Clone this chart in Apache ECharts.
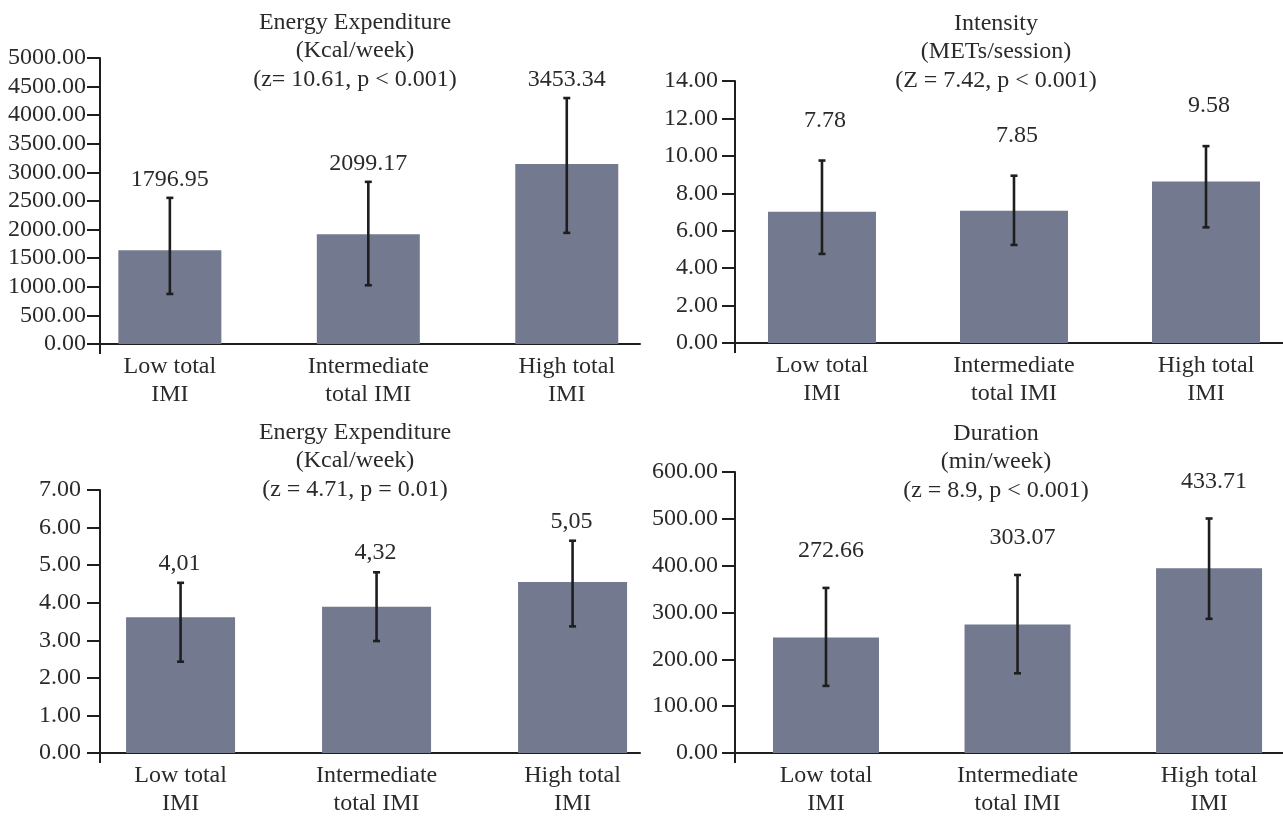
<!DOCTYPE html>
<html>
<head>
<meta charset="utf-8">
<script src="https://cdn.jsdelivr.net/npm/echarts@6/dist/echarts.min.js"></script>
<style>
html,body{margin:0;padding:0;background:#fff;}
#chart{width:1283px;height:818px;}
</style>
</head>
<body>
<div id="chart"></div>
<script>
// ---------- data ----------
const categories = ['Low total\nIMI', 'Intermediate\ntotal IMI', 'High total\nIMI'];

const titles = [
  'Energy Expenditure\n(Kcal/week)\n(z= 10.61, p < 0.001)',
  'Intensity\n(METs/session)\n(Z = 7.42, p < 0.001)',
  'Energy Expenditure\n(Kcal/week)\n(z = 4.71, p = 0.01)',
  'Duration\n(min/week)\n(z = 8.9, p < 0.001)'
];

const energyBars   = [1639, 1919, 3145];
const energyLow    = [875, 1027, 1943];
const energyHigh   = [2555, 2835, 4300];
const energyLabels = ['1796.95', '2099.17', '3453.34'];

const intensityBars   = [7.02, 7.07, 8.63];
const intensityLow    = [4.76, 5.24, 6.18];
const intensityHigh   = [9.75, 8.94, 10.52];
const intensityLabels = ['7.78', '7.85', '9.58'];

const energy2Bars   = [3.61, 3.89, 4.55];
const energy2Low    = [2.43, 2.98, 3.37];
const energy2High   = [4.53, 4.81, 5.65];
const energy2Labels = ['4,01', '4,32', '5,05'];

const durationBars   = [246.8, 274.5, 394.3];
const durationLow    = [143.3, 170.2, 286.5];
const durationHigh   = [352.5, 380.1, 500.7];
const durationLabels = ['272.66', '303.07', '433.71'];

const yMax      = [5000, 14, 7, 600];
const yInterval = [500, 2, 1, 100];

// ---------- layout / style ----------
const FONT = '"Liberation Serif", "Times New Roman", serif';
const TXT = '#2a2a2a';
const BAR = '#737a8f';
const ERR = '#1e1e1e';

const panels = [
  {bars: energyBars, low: energyLow, high: energyHigh, labels: energyLabels,
   grid: {left: 100, right: 643, top: 58, bottom: 474}, xMin: -0.352, xMax: 2.369, barWidth: 103,
   lab: [0, 18], title: {x: 355, y: 8}, yMargin: 14},
  {bars: intensityBars, low: intensityLow, high: intensityHigh, labels: intensityLabels,
   grid: {left: 735, right: 0, top: 81, bottom: 475}, xMin: -0.453, xMax: 2.401, barWidth: 108,
   lab: [3, 40], title: {x: 996, y: 9}, yMargin: 17},
  {bars: energy2Bars, low: energy2Low, high: energy2High, labels: energy2Labels,
   grid: {left: 100, right: 643, top: 490, bottom: 63}, xMin: -0.411, xMax: 2.344, barWidth: 109,
   lab: [-1, 19.5], title: {x: 355, y: 418}, yMargin: 19},
  {bars: durationBars, low: durationLow, high: durationHigh, labels: durationLabels,
   grid: {left: 735, right: 0, top: 472, bottom: 64}, xMin: -0.475, xMax: 2.386, barWidth: 106,
   lab: [5, 37], title: {x: 996, y: 419}, yMargin: 17}
];

const option = {
  animation: false,
  backgroundColor: '#fff',
  title: [], grid: [], xAxis: [], yAxis: [], series: []
};

panels.forEach((p, i) => {
  option.title.push({
    text: titles[i], left: p.title.x, top: p.title.y, textAlign: 'center', padding: 0,
    textStyle: {fontFamily: FONT, fontSize: 24, fontWeight: 'normal', color: TXT, lineHeight: 28.5}
  });
  option.grid.push(Object.assign({containLabel: false}, p.grid));
  option.xAxis.push({
    type: 'value', gridIndex: i, min: p.xMin, max: p.xMax,
    axisLine: {show: true, onZero: false, lineStyle: {color: ERR, width: 2}},
    axisTick: {show: true, customValues: [p.xMin], length: 10, lineStyle: {color: ERR, width: 2}},
    splitLine: {show: false},
    axisLabel: {
      customValues: [0, 1, 2], margin: 9,
      fontFamily: FONT, fontSize: 24, color: TXT, lineHeight: 28,
      formatter: v => categories[Math.round(v)]
    }
  });
  option.yAxis.push({
    type: 'value', gridIndex: i, min: 0, max: yMax[i], interval: yInterval[i],
    axisLine: {show: true, onZero: false, lineStyle: {color: ERR, width: 2}},
    axisTick: {show: true, length: 13, lineStyle: {color: ERR, width: 2}},
    splitLine: {show: false},
    axisLabel: {
      margin: p.yMargin, fontFamily: FONT, fontSize: 24, color: TXT,
      formatter: v => v.toFixed(2)
    }
  });
  option.series.push({
    type: 'bar', xAxisIndex: i, yAxisIndex: i, barWidth: p.barWidth,
    itemStyle: {color: BAR},
    data: p.bars.map((v, k) => [k, v])
  });
  const labels = p.labels, lab = p.lab;
  option.series.push({
    type: 'custom', xAxisIndex: i, yAxisIndex: i, z: 5,
    data: p.bars.map((v, k) => [k, p.low[k], p.high[k]]),
    renderItem: function (params, api) {
      const x = api.value(0);
      const lo = api.coord([x, api.value(1)]);
      const hi = api.coord([x, api.value(2)]);
      const cap = 3.5;
      const st = {stroke: ERR, lineWidth: 2.6};
      return {
        type: 'group',
        children: [
          {type: 'line', shape: {x1: lo[0], y1: lo[1], x2: hi[0], y2: hi[1]}, style: st},
          {type: 'line', shape: {x1: hi[0] - cap, y1: hi[1], x2: hi[0] + cap, y2: hi[1]}, style: st},
          {type: 'line', shape: {x1: lo[0] - cap, y1: lo[1], x2: lo[0] + cap, y2: lo[1]}, style: st},
          {type: 'text', x: hi[0] + lab[0], y: hi[1] - lab[1],
           style: {text: labels[params.dataIndex], align: 'center', verticalAlign: 'middle',
                   font: '24px ' + FONT, fill: TXT}}
        ]
      };
    }
  });
});

const chart = echarts.init(document.getElementById('chart'), null, {renderer: 'canvas'});
chart.setOption(option);
</script>
</body>
</html>
